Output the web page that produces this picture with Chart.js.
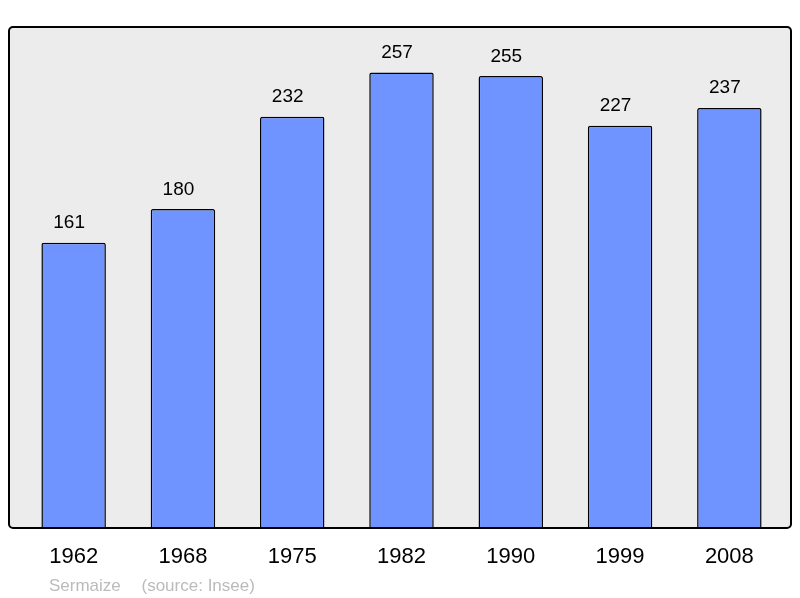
<!DOCTYPE html>
<html>
<head>
<title>Population</title>
<script src="https://cdn.jsdelivr.net/npm/chart.js@4.4.0/dist/chart.umd.min.js"></script>
<style>
  body { margin: 0; background: #fff; }
  #box { width: 800px; height: 598px; }
</style>
</head>
<body>
<div id="box"><canvas id="myCanvas"></canvas></div>
<script>
var years = ['1962', '1968', '1975', '1982', '1990', '1999', '2008'];
var population = [161, 180, 232, 257, 255, 227, 237];
var townName = 'Sermaize';
var sourceText = '(source: Insee)';

var fontFamily = '"Liberation Sans", Arial, sans-serif';

// grey frame behind the bars
var framePlugin = {
  id: 'frame',
  beforeDraw: function(chart) {
    var a = chart.chartArea, ctx = chart.ctx;
    var l = a.left - 10, r = a.right + 7, t = a.top, b = a.bottom, rad = 4;
    ctx.save();
    ctx.beginPath();
    ctx.roundRect(l, t, r - l, b - t, rad);
    ctx.fillStyle = '#ececec';
    ctx.fill();
    ctx.restore();
  },
  afterDatasetsDraw: function(chart) {
    var a = chart.chartArea, ctx = chart.ctx;
    var l = a.left - 10, r = a.right + 7, t = a.top, b = a.bottom, rad = 4;
    ctx.save();
    ctx.beginPath();
    ctx.roundRect(l, t, r - l, b - t, rad);
    ctx.lineWidth = 2;
    ctx.strokeStyle = '#000';
    ctx.stroke();

    // values above bars (sit a little left of centre in the original)
    var meta = chart.getDatasetMeta(0);
    ctx.fillStyle = '#000';
    ctx.font = '19px ' + fontFamily;
    ctx.textAlign = 'center';
    ctx.textBaseline = 'alphabetic';
    meta.data.forEach(function(bar, i) {
      ctx.fillText(population[i], bar.x - 4.5, bar.y - 14.5);
    });

    // footer
    ctx.fillStyle = '#bbbbbb';
    ctx.font = '17px ' + fontFamily;
    ctx.textAlign = 'left';
    ctx.fillText(townName, 49, 590.5);
    ctx.fillText(sourceText, 141.5, 590.5);
    ctx.restore();
  }
};

new Chart(document.getElementById('myCanvas'), {
  type: 'bar',
  data: {
    labels: years,
    datasets: [{
      data: population,
      backgroundColor: '#7094ff',
      borderColor: '#000',
      borderWidth: 1.5,
      borderRadius: 2,
      borderSkipped: 'start',
      barPercentage: 0.59,
      categoryPercentage: 1
    }]
  },
  options: {
    responsive: true,
    maintainAspectRatio: false,
    animation: false,
    layout: { padding: { left: 19, right: 16, top: 27, bottom: 0 } },
    plugins: {
      legend: { display: false },
      tooltip: { enabled: false }
    },
    scales: {
      x: {
        grid: { display: false, drawTicks: false },
        border: { display: false },
        ticks: {
          color: '#000',
          padding: 16,
          font: { size: 22, family: fontFamily }
        },
        afterFit: function(scale) { scale.height = 70; }
      },
      y: {
        display: false,
        min: 0,
        max: 257 * 1.1
      }
    }
  },
  plugins: [framePlugin]
});
</script>
</body>
</html>
